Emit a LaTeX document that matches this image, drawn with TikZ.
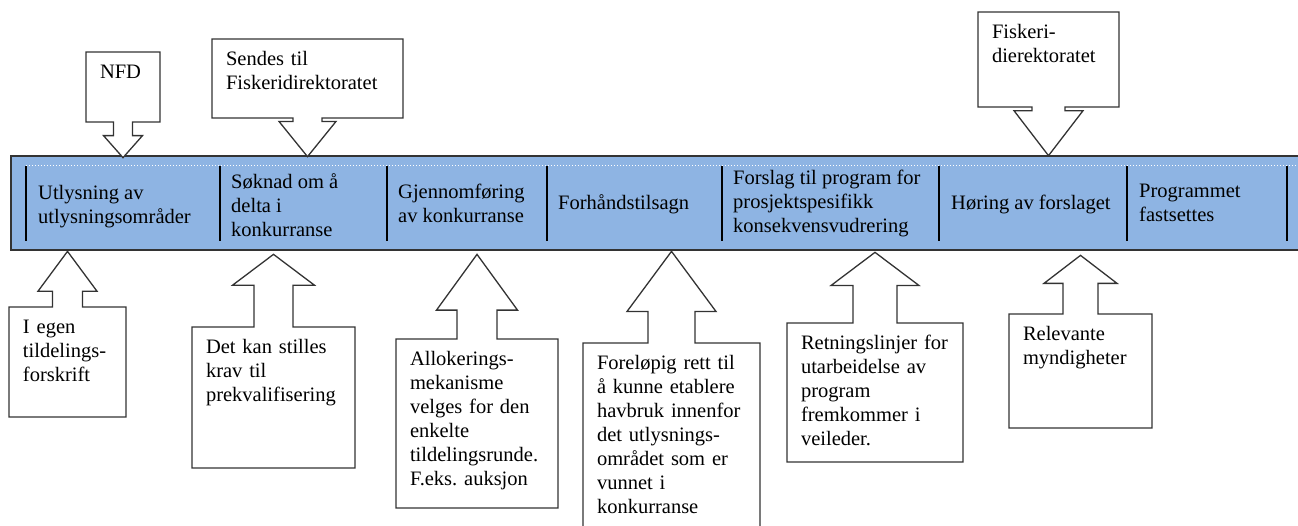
\documentclass[tikz,border=0pt]{standalone}
\usepackage{fontspec}
\setmainfont{Liberation Serif}
\usetikzlibrary{shapes.arrows}
\definecolor{barblue}{RGB}{142,180,227}
\definecolor{edge}{RGB}{51,51,51}
\hyphenpenalty=10000
\frenchspacing
\begin{document}
\begin{tikzpicture}[x=1pt, y=-1pt,
    every node/.style={font=\rmfamily\fontsize{20.5}{24}\selectfont},
    stage/.style={anchor=west, align=left, inner sep=0pt},
    infobox/.style n args={5}{shape=arrow box, draw=edge, fill=white,
      line width=1.3pt, align=left, inner xsep=14pt, inner ysep=11pt,
      text height=15pt, arrow box arrows={#1:#2pt},
      arrow box shaft width=#3pt, arrow box head extend=#4pt,
      arrow box tip angle=#5}]
  \useasboundingbox (0,0) rectangle (1298,525);
  % the time line
  \draw[draw=edge, line width=1.5pt, fill=barblue] (11,156) rectangle (1310,250);
  \draw[white, line width=0.8pt, dash pattern=on 1.2pt off 1.8pt] (26,165) -- (1298,165);
  \foreach \x in {26,220,387,547,722,939,1127,1287}
    \draw[line width=1.3pt] (\x,166) -- (\x,241);
  \node[stage] (utlysning) at (38,207) {Utlysning av\\utlysningsområder};
  \node[stage] (soknad) at (231,205) {Søknad om å\\delta i\\konkurranse};
  \node[stage] (gjennomforing) at (398,203) {Gjennomføring\\av konkurranse};
  \node[stage] (forhand) at (558,204) {Forhåndstilsagn};
  \node[stage] (forslag) at (733,203) {Forslag til program for\\prosjektspesifikk\\konsekvensvudrering};
  \node[stage] (horing) at (951,204) {Høring av forslaget};
  \node[stage] (fastsettes) at (1139,203) {Programmet\\fastsettes};
  % callouts above
  \node[infobox={south}{35}{19}{10}{83}, text width=46pt, text depth=33pt]
    (nfd) at (123,87) {NFD};
  \node[infobox={south}{38}{29}{14}{78}, text width=163pt, text depth=42pt]
    (sendes) at (307.5,78.5) {Sendes til\\Fiskeridirektoratet};
  \node[infobox={south}{48}{33}{18}{75}, text width=113pt, text depth=58pt]
    (fdir) at (1048.5,59.5) {Fiskeri-\\dierektoratet};
  % callouts below
  \node[infobox={north}{55}{30}{14.5}{73}, text width=89pt, text depth=73pt]
    (egen) at (67.5,362) {I egen\\tildelings-\\forskrift};
  \node[infobox={north}{72}{39}{21.5}{106}, text width=135pt, text depth=104pt]
    (krav) at (273.5,397.5) {Det kan stilles\\krav til\\prekvalifisering};
  \node[infobox={north}{84}{40}{20.5}{72}, text width=134pt, text depth=132pt]
    (allok) at (477,423.5) {Allokerings-\\mekanisme\\velges for den\\enkelte\\tildelingsrunde.\\F.eks. auksjon};
  \node[infobox={north}{91}{47}{21}{73}, text width=149pt, text depth=155pt]
    (rett) at (671.5,439) {Foreløpig rett til\\å kunne etablere\\havbruk innenfor\\det utlysnings-\\området som er\\vunnet i\\konkurranse};
  \node[infobox={north}{70}{44}{22}{106}, text width=148pt, text depth=102pt]
    (retning) at (875,392.5) {Retningslinjer for\\utarbeidelse av\\program\\fremkommer i\\veileder.};
  \node[infobox={north}{58}{35}{19}{105}, text width=115pt, text depth=77pt]
    (myndig) at (1080.5,371) {Relevante\\myndigheter};
\end{tikzpicture}
\end{document}
